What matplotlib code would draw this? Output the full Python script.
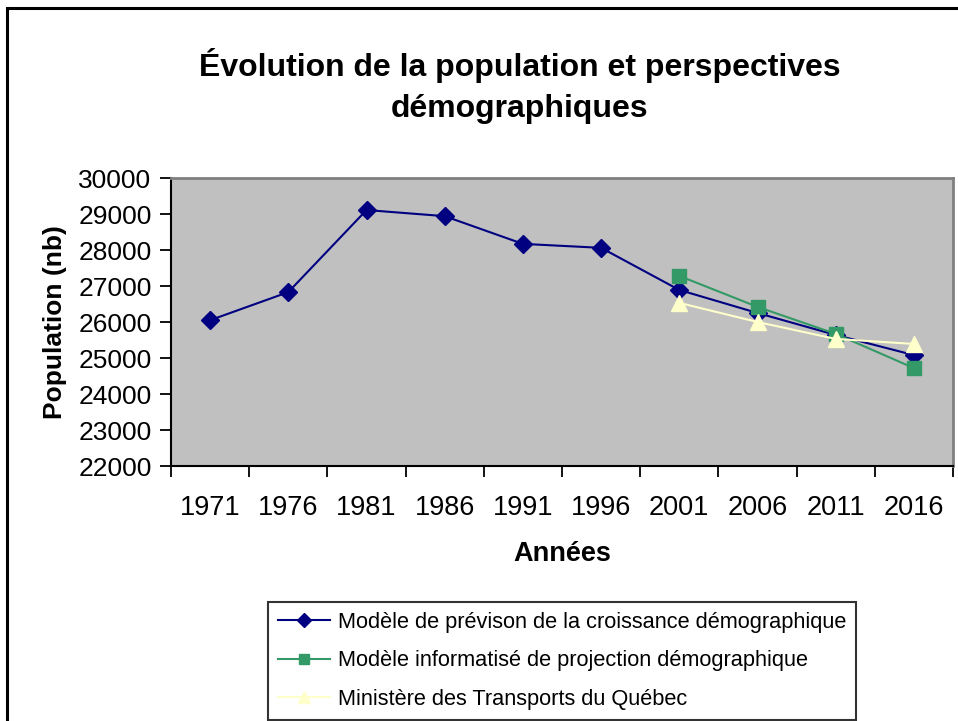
import matplotlib
matplotlib.use("Agg")
import matplotlib.pyplot as plt
from matplotlib.patches import Rectangle

plt.rcParams['font.family'] = ['Liberation Sans', 'DejaVu Sans']

years = ['1971', '1976', '1981', '1986', '1991', '1996', '2001', '2006', '2011', '2016']
prevision = [26050, 26830, 29110, 28940, 28170, 28060, 26890, 26250, 25640, 25080]
proj_years = ['2001', '2006', '2011', '2016']
informatise = [27280, 26420, 25670, 24720]
mtq = [26530, 26000, 25530, 25390]

series_labels = ['Modèle de prévison de la croissance démographique',
                 'Modèle informatisé de projection démographique',
                 'Ministère des Transports du Québec']
title = 'Évolution de la population et perspectives\ndémographiques'

W, H = 958, 721
fig = plt.figure(figsize=(W / 100, H / 100), dpi=100)
fig.patch.set_facecolor('white')

# outer frame
fig.add_artist(Rectangle((6.5 / W, -0.05), 1.2, 1 - 8 / H + 0.05, transform=fig.transFigure,
                         fill=False, edgecolor='black', linewidth=2.2))

ax = fig.add_axes([171 / W, 1 - 466 / H, (953 - 171) / W, (466 - 178) / H])
ax.set_facecolor('#C0C0C0')

idx = {y: i for i, y in enumerate(years)}
x_all = [idx[y] for y in years]
x_proj = [idx[y] for y in proj_years]

ax.plot(x_all, prevision, color='#000080', linewidth=1.5, marker='D', markersize=9.5,
        markeredgecolor='#000080', label=series_labels[0], zorder=3)
ax.plot(x_proj, informatise, color='#339966', linewidth=1.5, marker='s', markersize=9.5,
        markeredgecolor='#339966', label=series_labels[1], zorder=3)
ax.plot(x_proj, mtq, color='#FFFFCC', linewidth=1.5, marker='^', markersize=11,
        markeredgecolor='#FFFFCC', label=series_labels[2], zorder=4)

ax.set_xlim(-0.5, len(years) - 0.5)
ax.set_ylim(22000, 30000)
ax.set_yticks(range(22000, 30001, 1000))
ax.set_yticklabels([str(v) for v in range(22000, 30001, 1000)], fontsize=19)
ax.set_xticks([i - 0.5 for i in range(len(years) + 1)])
ax.set_xticklabels([])
ax.set_xticks(x_all, minor=True)
ax.set_xticklabels(years, minor=True, fontsize=19.5)
ax.tick_params(axis='x', which='minor', length=0, pad=21)
ax.tick_params(axis='x', which='major', direction='out', length=8, width=1.3)
ax.tick_params(axis='y', direction='out', length=8, width=1.3, pad=6)

for s in ['left', 'bottom']:
    ax.spines[s].set_color('black')
    ax.spines[s].set_linewidth(1.5)
for s in ['top', 'right']:
    ax.spines[s].set_color('#808080')
    ax.spines[s].set_linewidth(2)

ax.set_ylabel('Population (nb)', fontsize=19, fontweight='bold', labelpad=8)
ax.set_xlabel('Années', fontsize=19.5, fontweight='bold', labelpad=14)

fig.text(520 / W, 1 - 86 / H, title, ha='center', va='center', fontsize=23,
         fontweight='bold', linespacing=1.45)

leg = fig.legend(loc='upper left', bbox_to_anchor=(268 / W, 1 - 602 / H),
                 bbox_transform=fig.transFigure, fontsize=15.7, frameon=True,
                 fancybox=False, edgecolor='black', handlelength=2.4,
                 labelspacing=0.80, borderpad=0.45, handletextpad=0.35,
                 borderaxespad=0, markerscale=0.75)
leg.get_frame().set_linewidth(1.5)

fig.savefig('out.png', dpi=100)
